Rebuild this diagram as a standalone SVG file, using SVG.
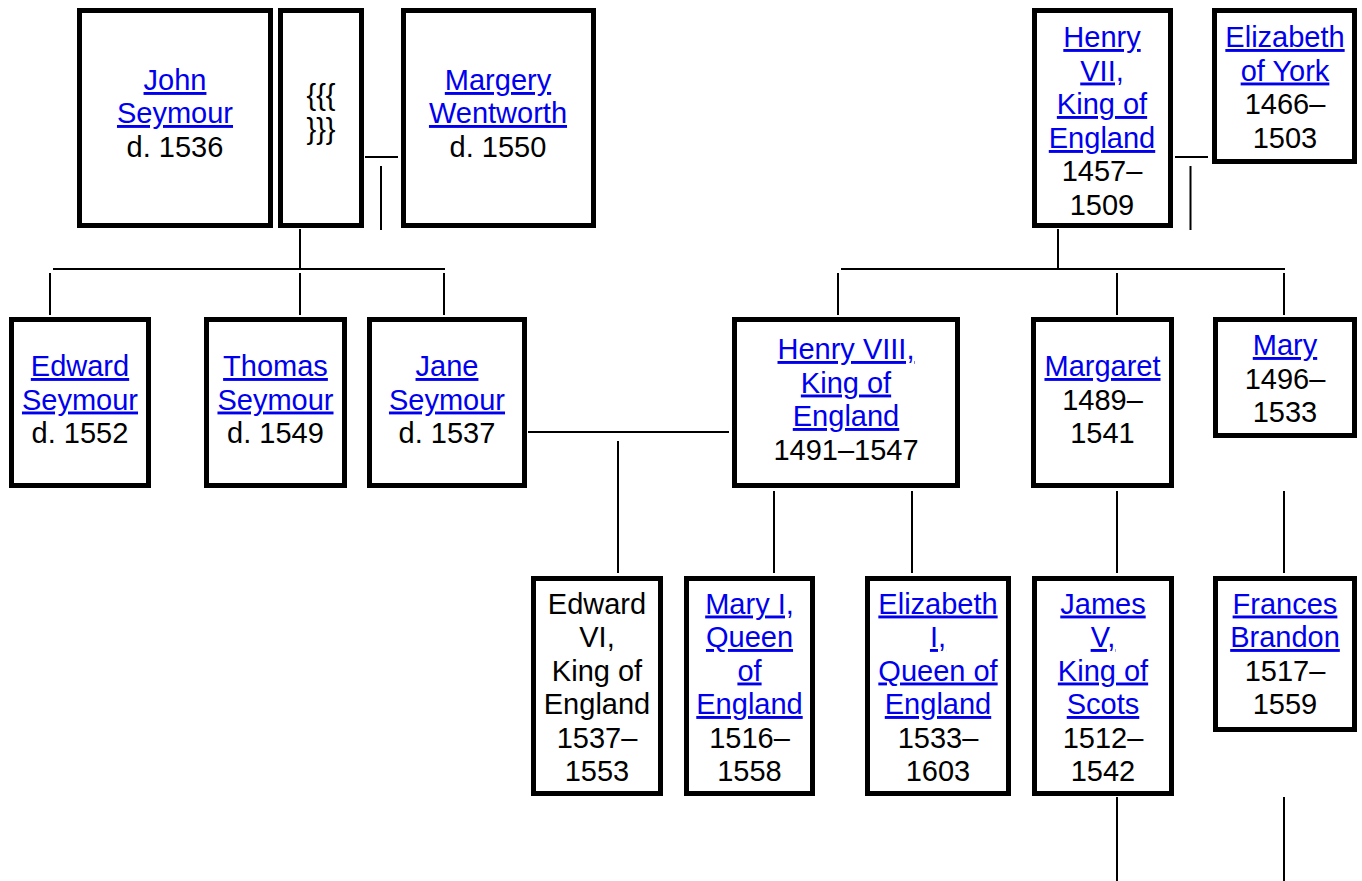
<svg xmlns="http://www.w3.org/2000/svg" width="1362" height="881" viewBox="0 0 1362 881">
<style>
.box{fill:#fff;stroke:#000;stroke-width:5}
text{font-family:"Liberation Sans",Arial,sans-serif;font-size:29px;text-anchor:middle;fill:#000}
.l{fill:#0000EE;text-decoration:underline}
.c line{stroke:#000;stroke-width:2}
</style>
<rect width="1362" height="881" fill="#fff"/>
<g class="c" id="connectors">
<line x1="365" y1="157" x2="398" y2="157"/>
<line x1="381" y1="166" x2="381" y2="230"/>
<line x1="300" y1="229" x2="300" y2="270"/>
<line x1="53" y1="269" x2="445" y2="269"/>
<line x1="50" y1="273" x2="50" y2="315"/>
<line x1="300" y1="273" x2="300" y2="315"/>
<line x1="444" y1="273" x2="444" y2="315"/>
<line x1="1175" y1="157" x2="1208" y2="157"/>
<line x1="1190.5" y1="166" x2="1190.5" y2="230"/>
<line x1="1058" y1="229" x2="1058" y2="270"/>
<line x1="841" y1="269" x2="1285" y2="269"/>
<line x1="838" y1="273" x2="838" y2="315"/>
<line x1="1117" y1="273" x2="1117" y2="315"/>
<line x1="1284" y1="273" x2="1284" y2="315"/>
<line x1="528" y1="432" x2="729" y2="432"/>
<line x1="618" y1="441" x2="618" y2="573"/>
<line x1="774" y1="491" x2="774" y2="573"/>
<line x1="912" y1="491" x2="912" y2="573"/>
<line x1="1117" y1="491" x2="1117" y2="573"/>
<line x1="1284" y1="491" x2="1284" y2="573"/>
<line x1="1117" y1="797" x2="1117" y2="881"/>
<line x1="1284" y1="797" x2="1284" y2="881"/>
</g>
<g id="john"><rect class="box" x="79.5" y="10.5" width="191" height="215"/>
<text x="175" y="90" class="l">John</text><text x="175" y="123" class="l">Seymour</text><text x="175" y="157">d. 1536</text></g>
<g id="braces"><rect class="box" x="280.5" y="10.5" width="81" height="215"/>
<text x="321" y="105">{{{</text><text x="321" y="139">}}}</text></g>
<g id="margery"><rect class="box" x="403.5" y="10.5" width="190" height="215"/>
<text x="498" y="90" class="l">Margery</text><text x="498" y="123" class="l">Wentworth</text><text x="498" y="157">d. 1550</text></g>
<g id="henry7"><rect class="box" x="1034.5" y="10.5" width="136" height="215"/>
<text x="1102" y="47" class="l">Henry</text><text x="1102" y="80.5" class="l">VII,</text><text x="1102" y="114" class="l">King of</text><text x="1102" y="148" class="l">England</text><text x="1102" y="181">1457–</text><text x="1102" y="215">1509</text></g>
<g id="elizabethyork"><rect class="box" x="1214.5" y="10.5" width="140" height="151"/>
<text x="1285" y="47" class="l">Elizabeth</text><text x="1285" y="80.5" class="l">of York</text><text x="1285" y="114">1466–</text><text x="1285" y="148">1503</text></g>
<g id="edwardseymour"><rect class="box" x="11.5" y="319.5" width="137" height="166"/>
<text x="80" y="376" class="l">Edward</text><text x="80" y="409.5" class="l">Seymour</text><text x="80" y="443">d. 1552</text></g>
<g id="thomas"><rect class="box" x="206.5" y="319.5" width="138" height="166"/>
<text x="275.5" y="376" class="l">Thomas</text><text x="275.5" y="409.5" class="l">Seymour</text><text x="275.5" y="443">d. 1549</text></g>
<g id="jane"><rect class="box" x="369.5" y="319.5" width="155" height="166"/>
<text x="447" y="376" class="l">Jane</text><text x="447" y="409.5" class="l">Seymour</text><text x="447" y="443">d. 1537</text></g>
<g id="henry8"><rect class="box" x="734.5" y="319.5" width="223" height="166"/>
<text x="846" y="359" class="l">Henry VIII,</text><text x="846" y="392.5" class="l">King of</text><text x="846" y="426" class="l">England</text><text x="846" y="459.5">1491–1547</text></g>
<g id="margaret"><rect class="box" x="1033.5" y="319.5" width="138" height="166"/>
<text x="1102.5" y="376" class="l">Margaret</text><text x="1102.5" y="409.5">1489–</text><text x="1102.5" y="443">1541</text></g>
<g id="mary"><rect class="box" x="1215.5" y="319.5" width="139" height="116"/>
<text x="1285" y="355" class="l">Mary</text><text x="1285" y="389">1496–</text><text x="1285" y="422">1533</text></g>
<g id="edward6"><rect class="box" x="533.5" y="578.5" width="127" height="215"/>
<text x="597" y="613.5">Edward</text><text x="597" y="647">VI,</text><text x="597" y="680.5">King of</text><text x="597" y="714">England</text><text x="597" y="747.5">1537–</text><text x="597" y="781">1553</text></g>
<g id="mary1"><rect class="box" x="686.5" y="578.5" width="126" height="215"/>
<text x="749.5" y="613.5" class="l">Mary I,</text><text x="749.5" y="647" class="l">Queen</text><text x="749.5" y="680.5" class="l">of</text><text x="749.5" y="714" class="l">England</text><text x="749.5" y="747.5">1516–</text><text x="749.5" y="781">1558</text></g>
<g id="elizabeth1"><rect class="box" x="867.5" y="578.5" width="141" height="215"/>
<text x="938" y="613.5" class="l">Elizabeth</text><text x="938" y="647" class="l">I,</text><text x="938" y="680.5" class="l">Queen of</text><text x="938" y="714" class="l">England</text><text x="938" y="747.5">1533–</text><text x="938" y="781">1603</text></g>
<g id="james5"><rect class="box" x="1034.5" y="578.5" width="137" height="215"/>
<text x="1103" y="613.5" class="l">James</text><text x="1103" y="647" class="l">V,</text><text x="1103" y="680.5" class="l">King of</text><text x="1103" y="714" class="l">Scots</text><text x="1103" y="747.5">1512–</text><text x="1103" y="781">1542</text></g>
<g id="frances"><rect class="box" x="1215.5" y="578.5" width="139" height="151"/>
<text x="1285" y="613.5" class="l">Frances</text><text x="1285" y="647" class="l">Brandon</text><text x="1285" y="680.5">1517–</text><text x="1285" y="714">1559</text></g>
</svg>
